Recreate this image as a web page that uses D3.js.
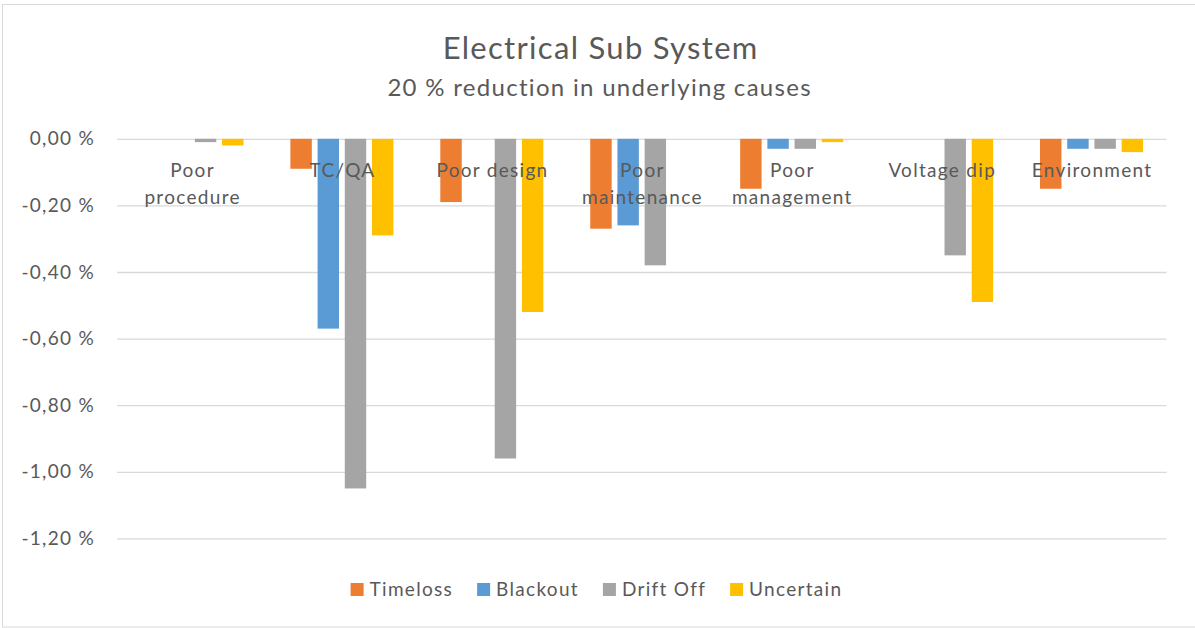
<!DOCTYPE html>
<html>
<head>
<meta charset="utf-8">
<script src="https://cdn.jsdelivr.net/npm/d3@7"></script>
<style>
  html, body { margin: 0; padding: 0; background: #fff; }
  svg { display: block; font-family: Lato, "Open Sans", sans-serif; }
</style>
</head>
<body>
<svg id="chart" width="1195" height="628"></svg>
<script>
// Underlying causes (categories) and the change per outcome type, in percent
const categories = ["Poor procedure", "TC/QA", "Poor design", "Poor maintenance",
                    "Poor management", "Voltage dip", "Environment"];
const seriesNames = ["Timeloss", "Blackout", "Drift Off", "Uncertain"];
const timeloss  = [0.00, -0.09, -0.19, -0.27, -0.15, 0.00, -0.15];
const blackout  = [0.00, -0.57, 0.00, -0.26, -0.03, 0.00, -0.03];
const driftOff  = [-0.01, -1.05, -0.96, -0.38, -0.03, -0.35, -0.03];
const uncertain = [-0.02, -0.29, -0.52, 0.00, -0.01, -0.49, -0.04];
const yTicks = [0, -0.2, -0.4, -0.6, -0.8, -1.0, -1.2];
const titleText = "Electrical Sub System";
const subtitleText = "20 % reduction in underlying causes";

const seriesValues = [timeloss, blackout, driftOff, uncertain];
const colors = ["#ED7D31", "#5B9BD5", "#A5A5A5", "#FFC000"];
const textColor = "#595959";
const gridColor = "#D9D9D9";
const ls = 1.3; // letter spacing for all text

const svg = d3.select("#chart");
const W = 1195, H = 628;
const plot = { left: 117, right: 1166.5, top: 138.8, bottom: 538.4 };

// chart frame
svg.append("rect")
  .attr("x", 2.5).attr("y", 4.5)
  .attr("width", W + 10).attr("height", 622.5)
  .attr("fill", "#fff").attr("stroke", gridColor).attr("stroke-width", 1);

// titles
svg.append("text")
  .attr("x", 600 + ls / 2).attr("y", 59)
  .attr("text-anchor", "middle").attr("letter-spacing", ls)
  .attr("font-size", 31).attr("fill", textColor)
  .text(titleText);
svg.append("text")
  .attr("x", 599 + ls / 2).attr("y", 96)
  .attr("text-anchor", "middle").attr("letter-spacing", ls)
  .attr("font-size", 24).attr("fill", textColor)
  .text(subtitleText);

// scales
const x = d3.scaleBand().domain(categories).range([plot.left, plot.right]).paddingInner(0).paddingOuter(0);
const xs = d3.scaleBand().domain(seriesNames).range([0, x.bandwidth()])
  .paddingInner(1 - 1 / 1.27).paddingOuter(1.095 / 1.27);
const y = d3.scaleLinear().domain([-1.2, 0]).range([plot.bottom, plot.top]);

const locale = d3.formatLocale({ decimal: ",", thousands: " ", grouping: [3], currency: ["", ""], minus: "-" });
const fmt = locale.format(".2f");

// gridlines and y axis labels
const yAxis = d3.axisLeft(y).tickValues(yTicks).tickSize(-(plot.right - plot.left))
  .tickPadding(22).tickFormat(d => fmt(d) + " %");
const gy = svg.append("g").attr("transform", `translate(${plot.left},0)`).call(yAxis);
gy.select(".domain").remove();
gy.selectAll(".tick line").attr("stroke", gridColor).attr("stroke-width", 1.3);
gy.selectAll(".tick text").attr("fill", textColor).attr("font-size", 19)
  .attr("letter-spacing", ls)
  .attr("font-family", "Lato, 'Open Sans', sans-serif");

// bars
const groups = svg.append("g").selectAll("g")
  .data(seriesNames).join("g")
  .attr("fill", (d, i) => colors[i]);
groups.selectAll("rect")
  .data((s, si) => categories.map((c, ci) => ({ c, s, v: seriesValues[si][ci] })))
  .join("rect")
  .attr("x", d => x(d.c) + xs(d.s))
  .attr("width", xs.bandwidth())
  .attr("y", d => y(Math.max(0, d.v)))
  .attr("height", d => Math.abs(y(d.v) - y(0)));

// category labels, wrapped when wider than the band
const labelG = svg.append("g");
categories.forEach(c => {
  const cx = x(c) + x.bandwidth() / 2 + ls / 2;
  const t = labelG.append("text")
    .attr("x", cx).attr("y", 177)
    .attr("text-anchor", "middle").attr("letter-spacing", ls)
    .attr("font-size", 19).attr("fill", textColor)
    .text(c);
  if (t.node().getComputedTextLength() > 140) {
    const words = c.split(" ");
    t.text(null);
    t.append("tspan").attr("x", cx).attr("dy", 0).text(words[0]);
    t.append("tspan").attr("x", cx).attr("dy", 26.5).text(words.slice(1).join(" "));
  }
});

// legend
const legend = svg.append("g");
let lx = 0;
seriesNames.forEach((s, i) => {
  const g = legend.append("g").attr("transform", `translate(${lx},0)`);
  g.append("rect").attr("x", 0).attr("y", -6).attr("width", 13).attr("height", 13).attr("fill", colors[i]);
  const t = g.append("text").attr("x", 19).attr("y", 7).attr("font-size", 19)
    .attr("letter-spacing", ls).attr("fill", textColor).text(s);
  lx += 19 + t.node().getComputedTextLength() + 24;
});
const legendW = lx - 24;
legend.attr("transform", `translate(${596.5 - legendW / 2},589)`);
</script>
</body>
</html>
